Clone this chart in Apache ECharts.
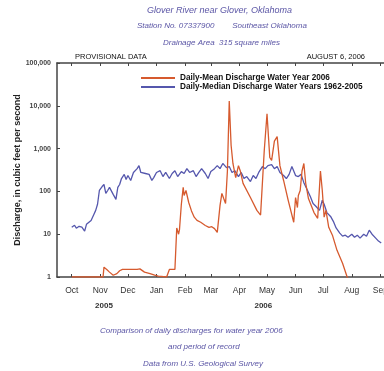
<!DOCTYPE html>
<html><head><meta charset="utf-8">
<script src="https://cdn.jsdelivr.net/npm/echarts@6/dist/echarts.min.js"></script>
<style>html,body{margin:0;padding:0;background:#fff}#c{width:384px;height:371px}</style>
</head><body><div id="c"></div>
<script>
// Days counted from Oct 1, 2005 (water year 2006)
const monthDays = [0,31,61,92,123,151,182,212,243,273,304,335];
const monthLabels = ['Oct','Nov','Dec','Jan','Feb','Mar','Apr','May','Jun','Jul','Aug','Sep'];
const yearDays = [35,208];
const yearLabels = ['2005','2006'];
const yTickLabels = {1:'1',10:'10',100:'100',1000:'1,000',10000:'10,000',100000:'100,000'};

const medianDays = [0,3,5,8,11,14,16,18,21,24,26,28,30,33,35,37,39,41,45,48,50,52,54,57,59,61,64,67,71,73,75,77,80,84,87,89,92,96,99,102,106,109,112,115,119,122,125,128,132,135,138,141,145,148,151,155,158,161,164,168,171,174,177,181,184,187,190,194,197,200,203,207,210,213,217,220,223,226,230,233,236,239,243,246,249,252,256,259,262,265,269,272,274,277,281,284,287,291,294,297,300,304,307,310,313,317,320,323,326,330,333,336];
const medianValues = [14.6,16.2,13.8,15.3,14.6,11.8,17,15.3,21,29,36,50,105,130,145,90,105,124,85,65,124,145,200,250,190,235,180,277,340,400,277,305,262,250,180,210,277,305,222,277,200,262,305,222,290,262,340,277,305,222,277,340,262,200,290,340,400,340,450,360,380,277,305,222,277,200,222,170,235,200,277,380,340,400,420,340,380,277,235,200,250,380,235,222,250,160,105,76,52,45,36,62,50,32,26,20,14,10.6,9,9.5,8.5,10,8.5,9.5,8.1,10,9,12.4,10,8.1,6.9,6.2];

const meanDays = [0,30,34,35,38,41,45,47,49,52,55,63,71,74,79,85,90,94,96,103,106,112,114,116,117,119,121,122,124,127,130,133,136,140,145,149,152,155,158,161,163,165,167,169,171,173,175,178,181,183,186,194,201,205,207,209,212,215,217,220,223,226,230,235,241,243,245,246,248,250,252,254,257,263,267,270,272,274,276,279,283,288,294,299,309];
const meanValues = [1,1,1,1.7,1.5,1.3,1.1,1,1.2,1.4,1.5,1.5,1.5,1.55,1.3,1.2,1.1,1.05,1,1,1.5,1.5,14,10,13,50,124,80,105,55,35,25,21,19,16,14.5,15,13.5,11,47,90,68,52,300,13000,1200,450,210,400,300,154,72,36,28,28,900,6500,620,530,1500,1900,400,180,62,19,72,42,80,105,300,450,155,68,32,23.5,300,105,25,36,14.5,9.5,4.2,2.1,1,0.4];

const meanData = meanDays.map((d,i)=>[d,meanValues[i]]);
const medianData = medianDays.map((d,i)=>[d,medianValues[i]]);

const orange = '#d65a2e', blue = '#5557ad', purple = '#5a55a5';
const chart = echarts.init(document.getElementById('c'), null, {renderer:'canvas'});
const ff = 'Liberation Sans, Arial, sans-serif';
chart.setOption({
  backgroundColor:'#fff',
  animation:false,
  textStyle:{fontFamily:ff},
  grid:{left:57, top:63, right:0, bottom:94, containLabel:false, outerBoundsMode:'none'},
  legend:{
    orient:'vertical', left:136, top:69, itemWidth:34, itemHeight:2, itemGap:1, icon:'rect',
    textStyle:{fontSize:8.2, fontWeight:'bold', color:'#111', fontFamily:ff},
    data:['Daily-Mean Discharge Water Year 2006','Daily-Median Discharge Water Years 1962-2005']
  },
  xAxis:[
    {type:'value', min:-16, max:339, position:'bottom',
     axisLine:{show:true, onZero:false, lineStyle:{color:'#444', width:1.5}},
     axisTick:{show:true, inside:true, length:3, customValues:monthDays, lineStyle:{color:'#444'}},
     axisLabel:{show:true, customValues:monthDays, margin:9, fontSize:8.5, color:'#333', fontFamily:ff,
       formatter:v=>monthLabels[monthDays.indexOf(v)]},
     splitLine:{show:false}},
    {type:'value', min:-16, max:339, position:'top',
     axisLine:{show:true, onZero:false, lineStyle:{color:'#444', width:1.5}},
     axisTick:{show:true, inside:true, length:3, customValues:monthDays, lineStyle:{color:'#444'}},
     axisLabel:{show:false}, splitLine:{show:false}},
    {type:'value', min:-16, max:339, position:'bottom', offset:17,
     axisLine:{show:false, onZero:false}, axisTick:{show:false},
     axisLabel:{show:true, customValues:yearDays, fontSize:8, fontWeight:'bold', color:'#333', fontFamily:ff,
       formatter:v=>yearLabels[yearDays.indexOf(v)]},
     splitLine:{show:false}}
  ],
  yAxis:[{
    type:'log', logBase:10, min:1, max:100000, splitNumber:5, position:'left',
    name:'Discharge, in cubic feet per second', nameLocation:'middle', nameGap:35, nameMoveOverlap:false,
    nameTextStyle:{fontSize:9, fontWeight:'bold', color:'#222', fontFamily:ff},
    axisLine:{show:true, onZero:false, lineStyle:{color:'#444', width:1.5}},
    axisTick:{show:true, inside:true, length:3, lineStyle:{color:'#444'}},
    axisLabel:{fontSize:7, fontWeight:'bold', color:'#444', margin:6, fontFamily:ff,
      formatter:v=>yTickLabels[Math.round(v)] || ''},
    splitLine:{show:false}
  }],
  series:[
    {name:'Daily-Mean Discharge Water Year 2006', type:'line', data:meanData, symbol:'none',
     lineStyle:{color:orange, width:1.3}, itemStyle:{color:orange}, clip:true, z:3},
    {name:'Daily-Median Discharge Water Years 1962-2005', type:'line', data:medianData, symbol:'none',
     lineStyle:{color:blue, width:1.3}, itemStyle:{color:blue}, clip:true, z:2}
  ],
  graphic:[
    {type:'text', top:6, left:147, style:{text:'Glover River near Glover, Oklahoma', fontSize:9, fontStyle:'italic', fill:purple, fontFamily:ff}},
    {type:'text', top:22, left:137, style:{text:'Station No. 07337900        Southeast Oklahoma', fontSize:8, fontStyle:'italic', fill:purple, fontFamily:ff}},
    {type:'text', top:39, left:163, style:{text:'Drainage Area  315 square miles', fontSize:8, fontStyle:'italic', fill:purple, fontFamily:ff}},
    {type:'text', top:53, left:75, style:{text:'PROVISIONAL DATA', fontSize:7.5, fill:'#111', fontFamily:ff}},
    {type:'text', top:53, right:19, style:{text:'AUGUST 6, 2006', fontSize:7.5, fill:'#111', fontFamily:ff}},
    {type:'text', top:327, left:100, style:{text:'Comparison of daily discharges for water year 2006', fontSize:8, fontStyle:'italic', fill:purple, fontFamily:ff}},
    {type:'text', top:343, left:168, style:{text:'and period of record', fontSize:8, fontStyle:'italic', fill:purple, fontFamily:ff}},
    {type:'text', top:360, left:143, style:{text:'Data from U.S. Geological Survey', fontSize:8, fontStyle:'italic', fill:purple, fontFamily:ff}}
  ]
});
</script></body></html>
